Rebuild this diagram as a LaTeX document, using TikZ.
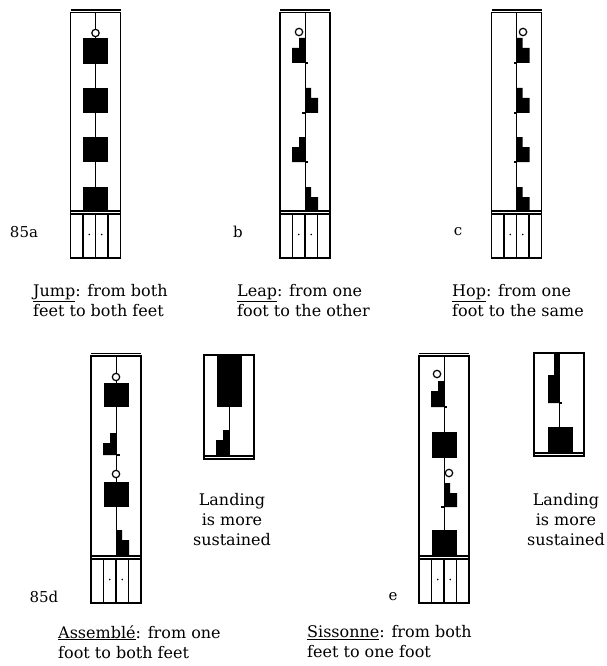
\documentclass[tikz,border=0pt]{standalone}
\usepackage{fontspec}
\setmainfont{DejaVu Serif}

% staff with support columns: #1 centre x, #2 top, #3 division, #4 bottom
\newcommand{\staffframe}[4]{%
  \draw[frame] (#1-25,#2) rectangle (#1+25,#4);
  \draw[rule] (#1-25,#2-2.5) -- (#1+25,#2-2.5);
  \draw[frame] (#1-25,#3) -- (#1+25,#3);
  \draw[frame] (#1-25,#3+3) -- (#1+25,#3+3);
  \foreach \dx in {-12.5,0,12.5} \draw[frame] (#1+\dx,#3+3) -- (#1+\dx,#4);
  \draw[mid] (#1,#2) -- (#1,#3);
  \fill ({#1-6.25},{(#3+#4)/2}) circle[radius=0.8];
  \fill ({#1+6.25},{(#3+#4)/2}) circle[radius=0.8];
}
% short staff beside: #1 centre x, #2 top, #3 bottom
\newcommand{\sidestaff}[3]{%
  \draw[frame] (#1-25,#2) rectangle (#1+25,#3+3);
  \draw[rule] (#1-25,#2) -- (#1+25,#2);
  \draw[frame] (#1-25,#3) -- (#1+25,#3);
  \draw[mid] (#1,#2) -- (#1,#3);
}
% support signs: #1 centre x, #2 top, #3 bottom
\newcommand{\bothfeet}[3]{\fill (#1-12.5,#2) rectangle (#1+12.5,#3);}
\newcommand{\leftfoot}[3]{\fill (#1,#2) -- (#1-6,#2) -- (#1-6,#2+10) -- (#1-13,#2+10) -- (#1-13,#3) -- (#1,#3) -- cycle;}
\newcommand{\rightfoot}[3]{\fill (#1,#2) -- (#1+6,#2) -- (#1+6,#2+10) -- (#1+13,#2+10) -- (#1+13,#3) -- (#1,#3) -- cycle;}
% small ring and end tick
\newcommand{\lift}[2]{\draw[line width=1.2pt, fill=white] (#1,#2) circle[radius=3.7];}
\newcommand{\catch}[3]{\draw[tick] (#1,#3) -- ++(#2,0);}

\begin{document}
\begin{tikzpicture}[x=1pt,y=-1pt,
    frame/.style={line width=1.1pt},
    rule/.style={line width=1.6pt},
    mid/.style={line width=0.9pt},
    tick/.style={line width=1.5pt},
    caption/.style={align=left, inner sep=0pt, font=\fontsize{16}{20}\selectfont},
    figlabel/.style={inner sep=0pt, font=\fontsize{15}{18}\selectfont}]
    \useasboundingbox (0,0) rectangle (606,666);

    % 85a jump
    \staffframe{95.5}{12.5}{211}{258}
    \bothfeet{95.5}{38}{64}
    \bothfeet{95.5}{88}{113}
    \bothfeet{95.5}{137}{162}
    \bothfeet{95.5}{187}{211}
    \lift{95.5}{33}

    % b leap
    \staffframe{305}{12.5}{211}{258}
    \leftfoot{305}{38}{63}
    \rightfoot{305}{88}{113}
    \leftfoot{305}{137}{162}
    \rightfoot{305}{187}{211}
    \lift{299}{32}
    \catch{305}{3}{63}
    \catch{305}{-3}{113}
    \catch{305}{3}{162}

    % c hop
    \staffframe{516.5}{12.5}{211}{258}
    \rightfoot{516.5}{38}{63}
    \rightfoot{516.5}{88}{113}
    \rightfoot{516.5}{137}{162}
    \rightfoot{516.5}{187}{211}
    \lift{523}{32}
    \catch{516.5}{-3}{63}
    \catch{516.5}{-3}{113}
    \catch{516.5}{-3}{162}

    % 85d assemble
    \staffframe{116}{356}{556}{603}
    \bothfeet{116}{383}{407}
    \leftfoot{116}{433}{455}
    \bothfeet{116}{482}{507}
    \rightfoot{116}{530}{556}
    \lift{116}{377}
    \lift{116}{474}
    \catch{116}{4}{455}

    \sidestaff{229}{355}{456}
    \bothfeet{229.5}{355}{407}
    \leftfoot{229}{430}{456}

    % e sissonne
    \staffframe{444}{356}{556}{603}
    \leftfoot{444}{381}{407}
    \bothfeet{444}{432}{458}
    \rightfoot{444}{483}{507}
    \bothfeet{444}{530}{556}
    \lift{437}{374}
    \lift{449}{473}
    \catch{444}{3}{407}
    \catch{444}{-3}{507}

    \sidestaff{559}{353}{453}
    \fill (559,353) -- (554,353) -- (554,375) -- (548,375) -- (548,403) -- (559,403) -- cycle;
    \catch{559}{3}{403}
    \bothfeet{560}{427}{453}

    % labels
    \node[figlabel] (lab a) at (24,232) {85a};
    \node[figlabel] (lab b) at (238,232) {b};
    \node[figlabel] (lab c) at (458,232) {c};
    \node[figlabel] (lab d) at (44,597) {85d};
    \node[figlabel] (lab e) at (393,597) {e};

    % captions
    \node[caption, anchor=north west] (cap jump) at (33,284) {\underline{Jump}: from both\\feet to both feet};
    \node[caption, anchor=north west] (cap leap) at (237,284) {\underline{Leap}: from one\\foot to the other};
    \node[caption, anchor=north west] (cap hop) at (452,284) {\underline{Hop}: from one\\foot to the same};
    \node[caption, anchor=north west] (cap assemble) at (58,625) {\underline{Assemblé}: from one\\foot to both feet};
    \node[caption, anchor=north west] (cap sissonne) at (307,625) {\underline{Sissonne}: from both\\feet to one foot};
    \node[caption, align=center] (land d) at (232,520) {Landing\\is more\\sustained};
    \node[caption, align=center] (land e) at (566,520) {Landing\\is more\\sustained};
\end{tikzpicture}
\end{document}
